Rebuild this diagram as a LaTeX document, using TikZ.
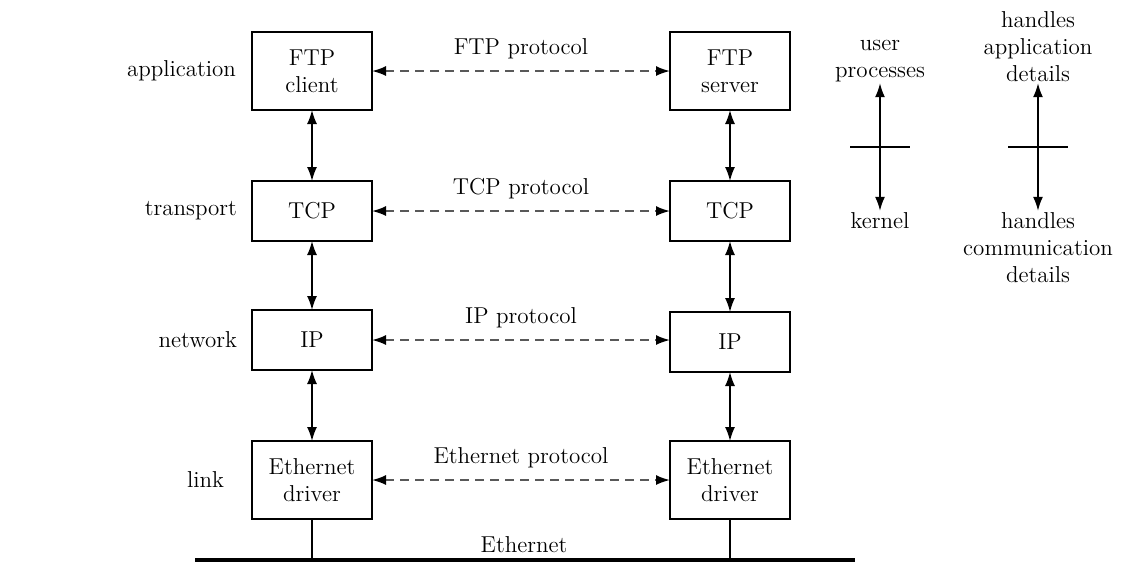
\documentclass[tikz,border=0pt]{standalone}
\usepackage{tikz}
\usetikzlibrary{arrows.meta}

\begin{document}
\begin{tikzpicture}[x=0.5pt,y=-0.5pt,
  font=\fontsize{11.5}{13.5}\selectfont,
  layerbox/.style={draw, line width=0.8pt, minimum width=60pt, align=center, inner sep=0pt},
  twoline/.style={layerbox, minimum height=39pt},
  oneline/.style={layerbox, minimum height=30pt},
  updown/.style={line width=0.8pt, shorten <=-0.4pt, shorten >=-0.4pt,
    {Latex[length=7pt,width=5pt]}-{Latex[length=7pt,width=5pt]}},
  peer/.style={draw=black!65, line width=0.9pt, dash pattern=on 4.5pt off 3pt,
    shorten <=-0.4pt, shorten >=-0.4pt,
    {Latex[length=7pt,width=5pt,color=black]}-{Latex[length=7pt,width=5pt,color=black]}},
  note/.style={align=center, inner sep=1pt}]
  \useasboundingbox (0,0) rectangle (1142,586);

  % Left stack
  \node[twoline] (ftpc) at (312,71) {FTP\\client};
  \node[oneline] (tcpl) at (312,211) {TCP};
  \node[oneline] (ipl) at (312,340) {IP};
  \node[twoline] (ethl) at (312,480) {Ethernet\\driver};

  % Right stack
  \node[twoline] (ftps) at (730,71) {FTP\\server};
  \node[oneline] (tcpr) at (730,211) {TCP};
  \node[oneline] (ipr) at (730,342) {IP};
  \node[twoline] (ethr) at (730,480) {Ethernet\\driver};

  % Layer names
  \node[anchor=east] at (243,71) {application};
  \node[anchor=east] at (244,211) {transport};
  \node[anchor=east] at (244,340) {network};
  \node[anchor=east] at (231,480) {link};

  % Up and down the stacks
  \draw[updown] (ftpc) -- (tcpl);
  \draw[updown] (tcpl) -- (ipl);
  \draw[updown] (ipl) -- (ethl);
  \draw[updown] (ftps) -- (tcpr);
  \draw[updown] (tcpr) -- (ipr);
  \draw[updown] (ipr) -- (ethr);

  % Peer protocols
  \draw[peer] (ftpc.east) -- (ftps.west) node[midway, above, yshift=2pt, black] {FTP protocol};
  \draw[peer] (tcpl.east) -- (tcpl.east -| tcpr.west) node[midway, above, yshift=2pt, black] {TCP protocol};
  \draw[peer] (ipl.east) -- (ipl.east -| ipr.west) node[midway, above, yshift=2pt, black] {IP protocol};
  \draw[peer] (ethl.east) -- (ethr.west) node[midway, above, yshift=2pt, black] {Ethernet protocol};

  % Ethernet cable
  \coordinate (cabl) at (195,560);
  \coordinate (cabr) at (855,560);
  \draw[line width=2pt] (cabl) -- (cabr);
  \draw[line width=0.6pt] (ethl.south) -- (ethl.south |- cabl);
  \draw[line width=0.6pt] (ethr.south) -- (ethr.south |- cabl);
  \node at (524,545) {Ethernet};

  % User / kernel split
  \node[note, anchor=south] (user) at (880,84) {user\\processes};
  \node[note, anchor=north] (kern) at (880,210) {kernel};
  \draw[updown] (user) -- (kern);
  \draw[line width=0.6pt] (850,147) -- (910,147);

  \node[note, anchor=south] (appdet) at (1038,84) {handles\\application\\details};
  \node[note, anchor=north] (comdet) at (1038,210) {handles\\communication\\details};
  \draw[updown] (appdet) -- (comdet);
  \draw[line width=0.6pt] (1008,147) -- (1068,147);
\end{tikzpicture}
\end{document}
